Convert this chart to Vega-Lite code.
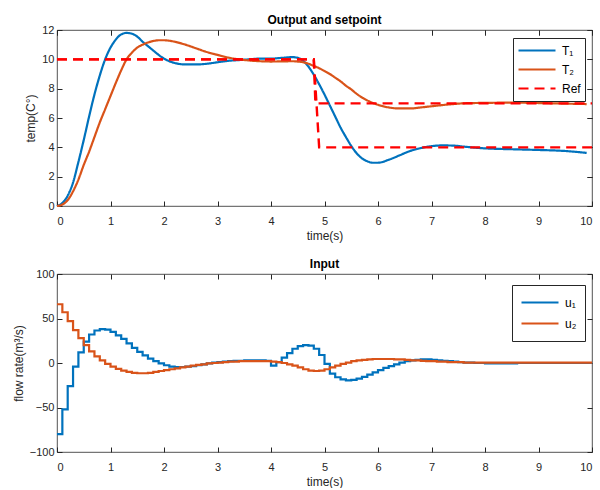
{
  "$schema": "https://vega.github.io/schema/vega-lite/v6.json",
  "background": "white",
  "padding": {"left": 11, "top": 13, "right": 2, "bottom": 0},
  "spacing": 15,
  "resolve": {"scale": {"color": "independent", "strokeDash": "independent"}, "legend": {"color": "independent", "strokeDash": "independent"}},
  "config": {
    "font": "Liberation Sans",
    "view": {"stroke": "#262626", "strokeWidth": 0.8},
    "axis": {"labelFont": "Liberation Sans", "labelFontSize": 11, "labelColor": "#262626", "titleFont": "Liberation Sans", "titleFontSize": 12, "titleFontWeight": "normal", "titleColor": "#262626", "tickColor": "#262626", "tickSize": -5, "domain": false, "grid": false, "labelPadding": 8, "titlePadding": 4},
    "axisX": {"labelPadding": 14},
    "axisTop": {"labels": false, "labelPadding": 0, "titleOpacity": 0, "titleFontSize": 1, "titlePadding": 0, "minExtent": 0, "maxExtent": 0},
    "axisRight": {"labels": false, "labelPadding": 0, "titleOpacity": 0, "titleFontSize": 1, "titlePadding": 0, "minExtent": 0, "maxExtent": 0},
    "title": {"font": "Liberation Sans", "fontSize": 12, "fontWeight": "bold", "color": "black", "offset": -3},
    "legend": {"orient": "none", "title": null, "symbolType": "stroke", "symbolSize": 1369, "symbolStrokeWidth": 2.2, "labelFont": "Liberation Sans", "labelFontSize": 12, "labelColor": "black", "labelOffset": 5, "strokeColor": "#262626", "fillColor": "white"}
  },
  "datasets": {
    "temps": [
      {"t":0,"T₁":0,"T₂":0},{"t":0.1,"T₁":0.2,"T₂":0.1},{"t":0.2,"T₁":0.7,"T₂":0.4},{"t":0.3,"T₁":1.6,"T₂":1.0},{"t":0.4,"T₁":3.0,"T₂":1.8},
      {"t":0.5,"T₁":4.5,"T₂":2.8},{"t":0.6,"T₁":6.1,"T₂":3.7},{"t":0.7,"T₁":7.6,"T₂":4.7},{"t":0.8,"T₁":8.9,"T₂":5.7},{"t":0.9,"T₁":10.0,"T₂":6.6},
      {"t":1.0,"T₁":10.8,"T₂":7.5},{"t":1.1,"T₁":11.35,"T₂":8.4},{"t":1.2,"T₁":11.7,"T₂":9.25},{"t":1.3,"T₁":11.8,"T₂":10.0},{"t":1.4,"T₁":11.75,"T₂":10.45},
      {"t":1.5,"T₁":11.55,"T₂":10.8},{"t":1.6,"T₁":11.2,"T₂":11.0},{"t":1.7,"T₁":10.9,"T₂":11.15},{"t":1.8,"T₁":10.6,"T₂":11.25},{"t":1.9,"T₁":10.3,"T₂":11.3},
      {"t":2.0,"T₁":10.05,"T₂":11.3},{"t":2.2,"T₁":9.75,"T₂":11.2},{"t":2.4,"T₁":9.65,"T₂":11.0},{"t":2.6,"T₁":9.65,"T₂":10.75},{"t":2.8,"T₁":9.7,"T₂":10.5},
      {"t":3.0,"T₁":9.8,"T₂":10.3},{"t":3.2,"T₁":9.9,"T₂":10.12},{"t":3.4,"T₁":9.95,"T₂":10.0},{"t":3.6,"T₁":10.0,"T₂":9.92},{"t":3.8,"T₁":10.05,"T₂":9.87},
      {"t":4.0,"T₁":10.05,"T₂":9.85},{"t":4.2,"T₁":10.1,"T₂":9.86},{"t":4.4,"T₁":10.15,"T₂":9.87},{"t":4.5,"T₁":10.1,"T₂":9.85},{"t":4.6,"T₁":9.9,"T₂":9.8},
      {"t":4.7,"T₁":9.5,"T₂":9.7},{"t":4.8,"T₁":8.95,"T₂":9.55},{"t":4.9,"T₁":8.3,"T₂":9.4},{"t":5.0,"T₁":7.6,"T₂":9.2},{"t":5.1,"T₁":6.85,"T₂":9.0},
      {"t":5.2,"T₁":6.1,"T₂":8.75},{"t":5.3,"T₁":5.35,"T₂":8.5},{"t":5.4,"T₁":4.7,"T₂":8.2},{"t":5.5,"T₁":4.1,"T₂":7.95},{"t":5.6,"T₁":3.6,"T₂":7.65},
      {"t":5.7,"T₁":3.25,"T₂":7.4},{"t":5.8,"T₁":3.05,"T₂":7.2},{"t":5.9,"T₁":2.95,"T₂":7.03},{"t":6.0,"T₁":2.95,"T₂":6.9},{"t":6.2,"T₁":3.15,"T₂":6.72},
      {"t":6.4,"T₁":3.45,"T₂":6.65},{"t":6.6,"T₁":3.75,"T₂":6.65},{"t":6.8,"T₁":3.95,"T₂":6.72},{"t":7.0,"T₁":4.08,"T₂":6.8},{"t":7.2,"T₁":4.13,"T₂":6.88},
      {"t":7.4,"T₁":4.12,"T₂":6.95},{"t":7.6,"T₁":4.05,"T₂":7.0},{"t":7.8,"T₁":3.98,"T₂":7.02},{"t":8.0,"T₁":3.93,"T₂":7.03},{"t":8.5,"T₁":3.87,"T₂":7.05},
      {"t":9.0,"T₁":3.82,"T₂":7.02},{"t":9.5,"T₁":3.75,"T₂":6.98},{"t":9.9,"T₁":3.62,"T₂":6.95}
    ],
    "ref": [
      {"t":0,"v":10,"g":"a","series":"Ref"},{"t":4.8,"v":10,"g":"a","series":"Ref"},{"t":4.9,"v":4,"g":"a","series":"Ref"},{"t":10,"v":4,"g":"a","series":"Ref"},
      {"t":0,"v":10,"g":"b","series":"Ref"},{"t":4.8,"v":10,"g":"b","series":"Ref"},{"t":4.83,"v":7,"g":"b","series":"Ref"},{"t":10,"v":7,"g":"b","series":"Ref"}
    ],
    "inputs": [
      {"t":0.0,"u₁":-80,"u₂":66},{"t":0.1,"u₁":-52,"u₂":57},{"t":0.2,"u₁":-26,"u₂":47},{"t":0.3,"u₁":-4,"u₂":37},{"t":0.4,"u₁":12,"u₂":28},
      {"t":0.5,"u₁":24,"u₂":20},{"t":0.6,"u₁":32,"u₂":13},{"t":0.7,"u₁":36.5,"u₂":7.5},{"t":0.8,"u₁":38,"u₂":3},{"t":0.9,"u₁":37.5,"u₂":-1},
      {"t":1.0,"u₁":35,"u₂":-4},{"t":1.1,"u₁":31,"u₂":-6.5},{"t":1.2,"u₁":27,"u₂":-8.5},{"t":1.3,"u₁":22,"u₂":-10},{"t":1.4,"u₁":17,"u₂":-11},
      {"t":1.5,"u₁":12.5,"u₂":-11.5},{"t":1.6,"u₁":8.5,"u₂":-11.5},{"t":1.7,"u₁":5,"u₂":-11},{"t":1.8,"u₁":2,"u₂":-10},{"t":1.9,"u₁":-0.5,"u₂":-9},
      {"t":2.0,"u₁":-2.5,"u₂":-8},{"t":2.1,"u₁":-4,"u₂":-7},{"t":2.2,"u₁":-4.5,"u₂":-6},{"t":2.3,"u₁":-4.5,"u₂":-5},{"t":2.4,"u₁":-4,"u₂":-4},
      {"t":2.5,"u₁":-3.5,"u₂":-3},{"t":2.6,"u₁":-2.5,"u₂":-2},{"t":2.7,"u₁":-1.5,"u₂":-1.5},{"t":2.8,"u₁":-0.5,"u₂":-0.5},{"t":2.9,"u₁":0.5,"u₂":0},
      {"t":3.0,"u₁":1,"u₂":0.5},{"t":3.1,"u₁":1.5,"u₂":1},{"t":3.2,"u₁":2,"u₂":1.5},{"t":3.3,"u₁":2.5,"u₂":1.5},{"t":3.4,"u₁":2.5,"u₂":2},
      {"t":3.5,"u₁":3,"u₂":2},{"t":3.6,"u₁":3,"u₂":2},{"t":3.7,"u₁":3,"u₂":2},{"t":3.8,"u₁":3,"u₂":2},{"t":3.9,"u₁":2.5,"u₂":2},
      {"t":4.0,"u₁":-3,"u₂":1.5},{"t":4.1,"u₁":1,"u₂":1},{"t":4.2,"u₁":6,"u₂":0},{"t":4.3,"u₁":11,"u₂":-1.5},{"t":4.4,"u₁":16,"u₂":-3},
      {"t":4.5,"u₁":19,"u₂":-5},{"t":4.6,"u₁":20,"u₂":-7},{"t":4.7,"u₁":19.5,"u₂":-8.5},{"t":4.8,"u₁":16,"u₂":-9},{"t":4.9,"u₁":9,"u₂":-8.5},
      {"t":5.0,"u₁":-1,"u₂":-7},{"t":5.1,"u₁":-12,"u₂":-5},{"t":5.2,"u₁":-16,"u₂":-3},{"t":5.3,"u₁":-18.5,"u₂":-1},{"t":5.4,"u₁":-19.5,"u₂":0.5},
      {"t":5.5,"u₁":-19,"u₂":2},{"t":5.6,"u₁":-17.5,"u₂":3},{"t":5.7,"u₁":-15.5,"u₂":3.5},{"t":5.8,"u₁":-13,"u₂":4},{"t":5.9,"u₁":-10.5,"u₂":4.5},
      {"t":6.0,"u₁":-8,"u₂":4.5},{"t":6.1,"u₁":-5.5,"u₂":4.5},{"t":6.2,"u₁":-3.5,"u₂":4.5},{"t":6.3,"u₁":-1.5,"u₂":4},{"t":6.4,"u₁":0.5,"u₂":4},
      {"t":6.5,"u₁":2,"u₂":3.5},{"t":6.6,"u₁":3,"u₂":3},{"t":6.7,"u₁":3.5,"u₂":3},{"t":6.8,"u₁":4,"u₂":2.5},{"t":6.9,"u₁":4,"u₂":2},
      {"t":7.0,"u₁":3.5,"u₂":2},{"t":7.1,"u₁":3,"u₂":1.5},{"t":7.2,"u₁":2.5,"u₂":1.5},{"t":7.3,"u₁":2,"u₂":1},{"t":7.4,"u₁":1.5,"u₂":1},
      {"t":7.5,"u₁":1,"u₂":1},{"t":7.6,"u₁":0.5,"u₂":0.5},{"t":7.7,"u₁":0.5,"u₂":0.5},{"t":7.8,"u₁":0,"u₂":0.5},{"t":7.9,"u₁":0,"u₂":0.5},
      {"t":8.0,"u₁":-0.5,"u₂":0.5},{"t":8.1,"u₁":-0.5,"u₂":0.5},{"t":8.2,"u₁":-0.5,"u₂":0.5},{"t":8.3,"u₁":-0.5,"u₂":0.5},{"t":8.4,"u₁":-0.5,"u₂":0.5},
      {"t":8.5,"u₁":-0.5,"u₂":0.5},{"t":8.6,"u₁":0,"u₂":0.5},{"t":8.7,"u₁":0,"u₂":0.5},{"t":8.8,"u₁":0,"u₂":0.5},{"t":8.9,"u₁":0,"u₂":0.5},
      {"t":9.0,"u₁":0,"u₂":0.5},{"t":9.1,"u₁":0,"u₂":0.5},{"t":9.2,"u₁":0,"u₂":0.5},{"t":9.3,"u₁":0,"u₂":0.5},{"t":9.4,"u₁":0,"u₂":0.5},
      {"t":9.5,"u₁":0,"u₂":0.5},{"t":9.6,"u₁":0,"u₂":0.5},{"t":9.7,"u₁":0,"u₂":0.5},{"t":9.8,"u₁":0,"u₂":0.5},{"t":9.9,"u₁":0,"u₂":0.5},
      {"t":10.0,"u₁":0,"u₂":0.5}
    ]
  },
  "vconcat": [
    {
      "title": "Output and setpoint",
      "width": 535,
      "height": 176,
      "layer": [
        {
          "data": {"name": "temps"},
          "transform": [{"fold": ["T₁", "T₂"], "as": ["series", "v"]}],
          "mark": {"type": "line", "strokeWidth": 2.2, "interpolate": "monotone"},
          "encoding": {
            "x": {"field": "t", "type": "quantitative", "scale": {"domain": [0, 10], "nice": false}, "axis": {"values": [0,1,2,3,4,5,6,7,8,9,10], "title": "time(s)"}},
            "y": {"field": "v", "type": "quantitative", "scale": {"domain": [0, 12], "nice": false}, "axis": {"values": [0,2,4,6,8,10,12], "title": "temp(C°)"}},
            "color": {"field": "series", "type": "nominal", "scale": {"domain": ["T₁", "T₂", "Ref"], "range": ["#0072BD", "#D95319", "#FF0000"]}, "legend": {"legendX": 456, "legendY": 8, "padding": 4, "clipHeight": 17, "rowPadding": 2}},
            "strokeDash": {"field": "series", "type": "nominal", "scale": {"domain": ["T₁", "T₂", "Ref"], "range": [[1, 0], [1, 0], [10, 6]]}, "legend": {"legendX": 456, "legendY": 8, "padding": 4, "clipHeight": 17, "rowPadding": 2}}
          }
        },
        {
          "data": {"name": "ref"},
          "mark": {"type": "line", "strokeWidth": 2.4},
          "encoding": {
            "x": {"field": "t", "type": "quantitative"},
            "y": {"field": "v", "type": "quantitative"},
            "color": {"field": "series", "type": "nominal"},
            "strokeDash": {"field": "series", "type": "nominal"},
            "detail": {"field": "g"}
          }
        },
        {
          "data": {"name": "ref"},
          "mark": {"type": "line", "opacity": 0},
          "encoding": {
            "x": {"field": "t", "type": "quantitative", "title": "", "axis": {"orient": "top", "labels": false, "title": "", "values": [0,1,2,3,4,5,6,7,8,9,10]}},
            "y": {"field": "v", "type": "quantitative", "title": "", "axis": {"orient": "right", "labels": false, "title": "", "values": [0,2,4,6,8,10,12]}},
            "detail": {"field": "g"}
          }
        }
      ],
      "resolve": {"axis": {"x": "independent", "y": "independent"}}
    },
    {
      "title": "Input",
      "width": 535,
      "height": 178,
      "data": {"name": "inputs"},
      "transform": [{"fold": ["u₁", "u₂"], "as": ["series", "v"]}],
      "layer": [
        {
          "mark": {"type": "line", "strokeWidth": 2.2, "interpolate": "step-after"},
          "encoding": {
            "x": {"field": "t", "type": "quantitative", "scale": {"domain": [0, 10], "nice": false}, "axis": {"values": [0,1,2,3,4,5,6,7,8,9,10], "title": "time(s)"}},
            "y": {"field": "v", "type": "quantitative", "scale": {"domain": [-100, 100], "nice": false}, "axis": {"values": [-100,-50,0,50,100], "title": "flow rate(m³/s)"}},
            "color": {"field": "series", "type": "nominal", "scale": {"domain": ["u₁", "u₂"], "range": ["#0072BD", "#D95319"]}, "legend": {"legendX": 455, "legendY": 11, "padding": 8, "clipHeight": 19, "rowPadding": 2}}
          }
        },
        {
          "mark": {"type": "line", "opacity": 0},
          "encoding": {
            "x": {"field": "t", "type": "quantitative", "title": "", "axis": {"orient": "top", "labels": false, "title": "", "values": [0,1,2,3,4,5,6,7,8,9,10]}},
            "y": {"field": "v", "type": "quantitative", "title": "", "axis": {"orient": "right", "labels": false, "title": "", "values": [-100,-50,0,50,100]}},
            "detail": {"field": "series"}
          }
        }
      ],
      "resolve": {"axis": {"x": "independent", "y": "independent"}}
    }
  ]
}
